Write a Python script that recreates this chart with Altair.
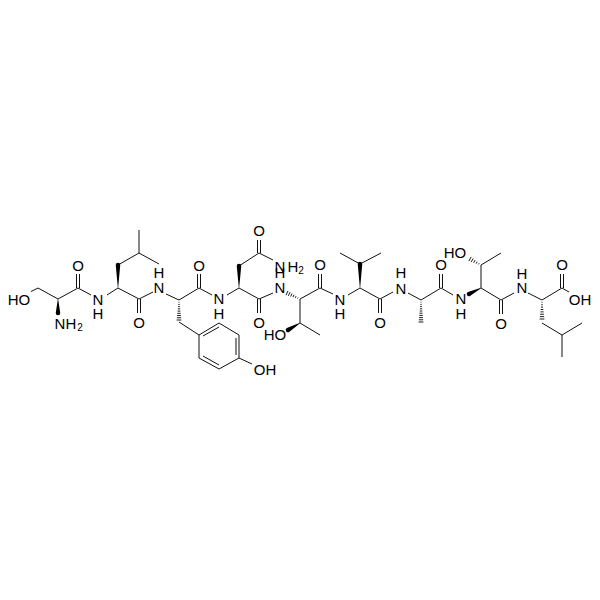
import altair as alt
import pandas as pd

SINGLE = [
 (31,291.5,38,288),(38,288,58,299),(58,299,78,288),(78,288,91,295),(107,295,118,288),
 (118,265,139,253),(139,253,139,230),(139,253,159,264),(118,288,139,299),(139,299,153,292),
 (166,294,179,300),(179,300,199,288),(179,322,199,335),(199,335,219,323),(219,323,239,335),
 (239,335,239,358),(239,358,219,369),(219,369,199,358),(199,358,199,335),(239,358,252,364),
 (199,288,212,295),(227,295,239,288),(239,266,259,253),(259,253,273,260),(239,288,259,299),
 (259,299,273,293),(300,299,320,288),(300,299,300,323),(300,323,320,335),(320,288,333,294),
 (348,295,360,288),(360,264,340,253),(360,264,381,253),(360,288,380,299),(380,299,393,292),
 (408,293,421,300),(421,300,441,288),(441,288,453,295),(481,288,481,265),
 (481,265,501,253),(481,288,501,300),(501,300,514,293),(528,293,542,300),(542,323,562,335),
 (562,335,562,357),(562,335,582,323),(542,300,562,288),(562,288,569,292),
]
DOUBLE_INNER = [
 (76.5,274,76.5,288),(79.5,274,79.5,288),(137.5,299,137.5,313),(140.5,299,140.5,313),
 (197.5,274,197.5,288),(200.5,274,200.5,288),(257.5,240,257.5,253),(260.5,240,260.5,253),
 (257.5,299,257.5,313),(260.5,299,260.5,313),(318.5,274,318.5,288),(321.5,274,321.5,288),
 (378.5,299,378.5,313),(381.5,299,381.5,313),(439.5,274,439.5,288),(442.5,274,442.5,288),
 (499.5,300,499.5,314),(502.5,300,502.5,314),(560.5,274,560.5,288),(563.5,274,563.5,288),
 (203,336,219,327),(236,338,236,355),(219,365,203,356),
]
WEDGES = [
 (58,299,58,313),(118,288,118,265),(239,288,239,266),(360,288,360,264),
 (300,323,288,330),(481,288,469,294),
]
HASHES = [
 (179,300,179,320),(300,299,287,293),(421,300,421,322),(481,265,470,259),(542,300,542,319),
]
LABEL_TEXT = ["HO","N","H","O","N","H","O","H","N","O","N","H","O","N","H","O","H","N",
              "O","HO","N","H","O","H","N","O","N","H","HO","O","H","N","O","OH","OH"]
LABEL_X = [19,60,71,78,98,98,139,159,159,199,219,219,259,280,293,259,280,280,
           320,275,340,340,380,401,401,441,461,461,455,501,522,522,562,580,265]
LABEL_Y = [300,324,324,266,300,314,323,273,288,266,299,314,231,267,267,323,273,288,
           265,335,300,314,323,273,289,265,299,314,253,324,274,288,265,300,370]
SUB_TEXT = ["2","2"]
SUB_X = [80,301]
SUB_Y = [328,271]

bonds = pd.DataFrame(SINGLE + DOUBLE_INNER, columns=["x","y","x2","y2"])

xs = alt.Scale(domain=[8,592])
ys = alt.Scale(domain=[592,8])
X = alt.X("x:Q", scale=xs, axis=None)
Y = alt.Y("y:Q", scale=ys, axis=None)

lines = alt.Chart(bonds).mark_rule(color="#111", strokeWidth=1).encode(x=X, y=Y, x2="x2:Q", y2="y2:Q")

rows = []
for i,(a,b,c,d) in enumerate(WEDGES):
    rows += [dict(id=i,o=0,x=a,y=b,s=0.3), dict(id=i,o=1,x=c,y=d,s=4.5)]
wedge = alt.Chart(pd.DataFrame(rows)).mark_trail(color="#000").encode(
    x=X, y=Y, detail="id:N", order="o:Q", size=alt.Size("s:Q", scale=None, legend=None))

hash_rows = []
for (a,b,c,d) in HASHES:
    dx,dy = c-a,d-b
    L = (dx*dx+dy*dy)**0.5
    nx,ny = -dy/L,dx/L
    n = int(L/2.2)
    for k in range(1,n+1):
        t = k/n
        w = 0.2+2.2*t
        px,py = a+dx*t,b+dy*t
        hash_rows.append(dict(x=px-nx*w,y=py-ny*w,x2=px+nx*w,y2=py+ny*w))
hashes = alt.Chart(pd.DataFrame(hash_rows)).mark_rule(color="#000", strokeWidth=0.9).encode(x=X,y=Y,x2="x2:Q",y2="y2:Q")

labels = alt.Chart(pd.DataFrame(dict(t=LABEL_TEXT,x=LABEL_X,y=LABEL_Y))).mark_text(
    font="Liberation Sans", fontSize=15, color="#000", align="center", baseline="middle").encode(x=X,y=Y,text="t:N")
subs = alt.Chart(pd.DataFrame(dict(t=SUB_TEXT,x=SUB_X,y=SUB_Y))).mark_text(
    font="Liberation Sans", fontSize=10, color="#000", align="center", baseline="middle").encode(x=X,y=Y,text="t:N")

chart = (lines+wedge+hashes+labels+subs).properties(width=584,height=584,padding=0,autosize=alt.AutoSizeParams(type="none"),background="white").configure_view(stroke=None)
chart.save("out.html", embed_options={"renderer":"svg","actions":False})
